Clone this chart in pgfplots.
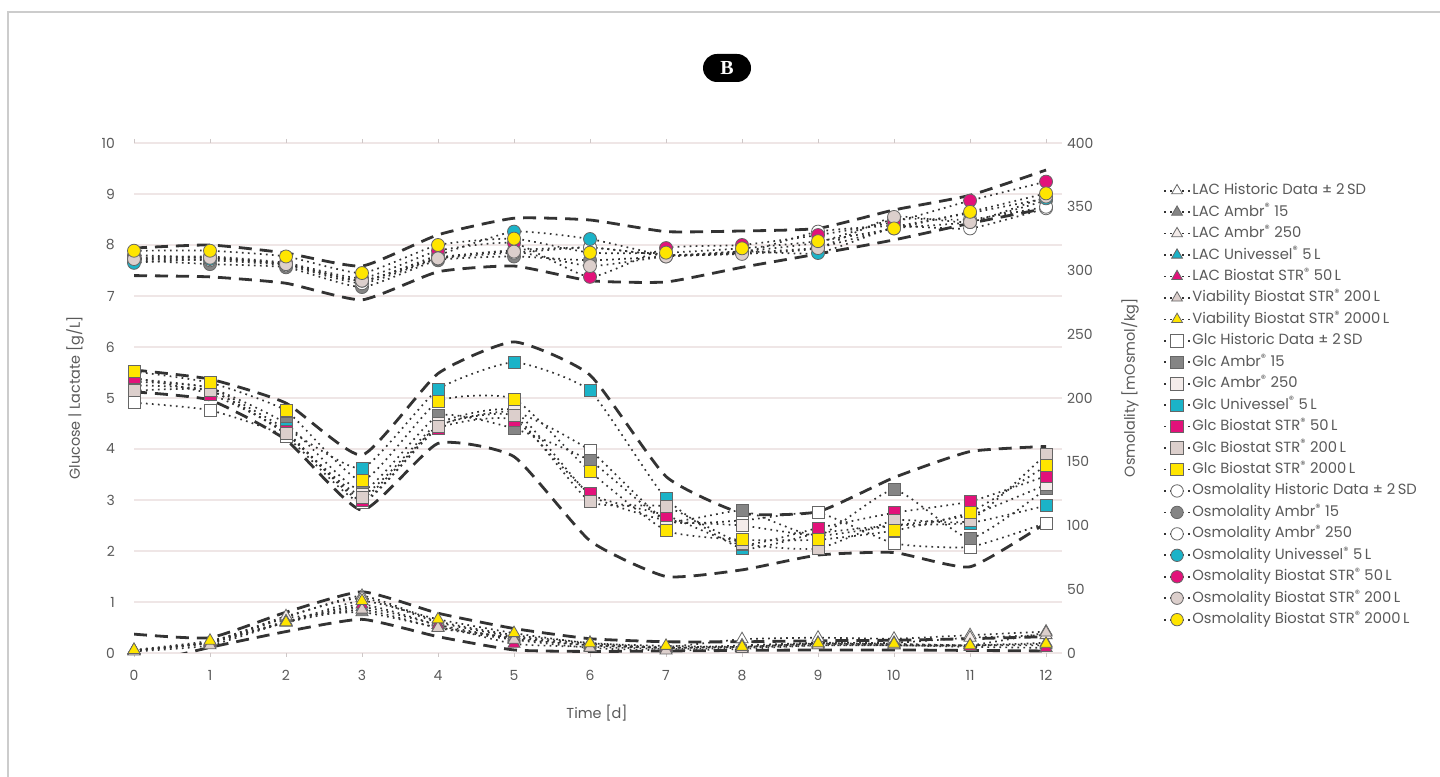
\documentclass[border=0pt]{standalone}
\usepackage{pgfplots}
\usepackage{pgfplotstable}
\pgfplotsset{compat=1.18}
\usepackage{fontspec}
\setmainfont{Poppins}
\newfontfamily\serifB{Liberation Serif}
\definecolor{textC}{HTML}{5A5A5A}
\definecolor{gridC}{HTML}{EFE6E6}
\definecolor{lineC}{HTML}{333333}
\definecolor{outC}{HTML}{666666}
\definecolor{cyanS}{HTML}{1BB3C8}
\definecolor{magS}{HTML}{E2127A}
\definecolor{yelS}{HTML}{FFE500}
\definecolor{grayS}{HTML}{858585}
\definecolor{pinkS}{HTML}{DCCFCC}
\definecolor{ambS}{HTML}{F4ECEA}
\definecolor{borderC}{HTML}{CCCCCC}
\newcommand\reg{\textsuperscript{®}}

\pgfplotstableread{
day H A15 A250 U5 B50 B200 B2000 up lo
0 0.05 0.05 0.05 0.05 0.05 0.03 0.06 0.37 -0.25
1 0.22 0.20 0.22 0.20 0.20 0.15 0.24 0.30 0.11
2 0.70 0.68 0.72 0.62 0.60 0.60 0.60 0.80 0.42
3 1.12 0.80 1.08 0.90 0.95 0.85 1.02 1.20 0.66
4 0.62 0.50 0.60 0.55 0.55 0.49 0.66 0.78 0.32
5 0.35 0.30 0.32 0.28 0.18 0.26 0.39 0.48 0.06
6 0.20 0.15 0.18 0.15 0.12 0.10 0.19 0.28 0.03
7 0.12 0.10 0.10 0.10 0.08 0.05 0.14 0.22 0.04
8 0.27 0.12 0.15 0.12 0.10 0.08 0.12 0.22 0.05
9 0.30 0.18 0.20 0.18 0.15 0.15 0.19 0.24 0.06
10 0.28 0.15 0.20 0.17 0.15 0.15 0.18 0.25 0.06
11 0.35 0.15 0.30 0.15 0.12 0.15 0.15 0.28 0.05
12 0.42 0.20 0.35 0.15 0.10 0.40 0.18 0.32 0.04
}\lac

\pgfplotstableread{
day H A15 A250 U5 B50 B200 B2000 up lo
0 4.91 5.37 5.25 5.32 5.40 5.14 5.52 5.55 5.12
1 4.76 5.20 5.15 5.20 5.08 5.15 5.30 5.37 4.96
2 4.24 4.50 4.30 4.40 4.34 4.30 4.75 4.90 4.18
3 2.95 3.18 3.10 3.62 2.99 3.05 3.38 3.88 2.80
4 4.45 4.65 4.50 5.17 4.40 4.45 4.93 5.48 4.11
5 4.73 4.40 4.75 5.70 4.57 4.65 4.98 6.10 3.85
6 3.97 3.77 3.10 5.14 3.12 2.97 3.56 5.45 2.20
7 2.60 2.60 2.60 3.03 2.70 2.87 2.40 3.46 1.50
8 2.60 2.79 2.50 2.05 2.12 2.15 2.22 2.74 1.63
9 2.75 2.30 2.30 2.35 2.45 2.05 2.22 2.77 1.92
10 2.15 3.20 2.50 2.50 2.75 2.60 2.40 3.44 1.97
11 2.08 2.25 2.70 2.55 2.97 2.60 2.76 3.95 1.69
12 2.55 3.22 3.30 2.89 3.47 3.90 3.67 4.05 2.55
}\glc

\pgfplotstableread{
day H A15 A250 U5 B50 B200 B2000 up lo
0 312 308 309 306 310 309 315.5 317.6 296
1 310 305 308 309 311 310 315.5 320 295
2 305 302.5 304 305 306 305 311 313.7 290
3 292 287 290 292 294 292 298 303.5 277
4 310 308 309 312 315.5 309.5 320 328 299
5 316 311 314 330.5 321.5 314.8 325 341 303.5
6 318 308 318 324.7 295 303.5 314 339.6 292
7 312 311 312 312 317.6 311 314 330.5 291
8 314 314 315 315 320 313 317.4 331 302.5
9 330.5 318 322 313.7 327.8 317.6 323 333 313
10 335 333 340 334 338 342 333 347.5 324
11 333 338 340 345 354.8 338 346 359 337
12 348.8 355 350 356.6 369.7 358 360.5 378.8 348.8
}\osm

\pgfplotsset{
  dotl/.style={color=lineC, line width=1.7bp, dash pattern=on 1.7bp off 4.3bp, smooth, tension=0.3},
  mk/.style={mark options={draw=outC, line width=0.8bp, solid, fill=#1}},
  circ/.style={dotl, mark=*, mark size=6.5bp, mk=#1},
  sq/.style={dotl, mark=square*, mark size=6bp, mk=#1},
  tri/.style={dotl, mark=triangle*, mark size=7bp, mk=#1},
  bound/.style={color=lineC, line width=2.8bp, dash pattern=on 13bp off 8bp, smooth, tension=0.3, no marks, forget plot},
  common/.style={
    at={(134bp,124bp)}, anchor=south west,
    scale only axis, width=928bp, height=510bp,
    xmin=0, xmax=12.21,
    axis line style={draw=none},
    tick label style={font=\fontsize{14}{16}\selectfont, text=textC},
    /pgf/number format/assume math mode=true,
  },
}

\begin{document}
\begin{tikzpicture}
\useasboundingbox (0,0) rectangle (1440bp,777bp);
\fill[white] (0,0) rectangle (1440bp,777bp);
\draw[color=borderC, line width=1.5bp] (8bp,-5bp) -- (8bp,765bp) -- (1445bp,765bp);
\node[fill=black, rounded corners=14bp, minimum width=48bp, minimum height=28bp, inner sep=0pt, text=white, font=\serifB\bfseries\fontsize{20}{20}\selectfont] at (727bp,709bp) {B};

\begin{axis}[common,
  ymin=0, ymax=10,
  xtick={0,...,12}, ytick={0,...,10},
  ymajorgrids, grid style={color=gridC, line width=1.3bp},
  xtick align=outside, major tick length=4bp,
  xtick style={color=gridC!70!gray, line width=1bp},
  ytick style={draw=none},
  xticklabel style={inner sep=0pt, yshift=-13bp},
  yticklabel style={anchor=east, inner sep=0pt, xshift=-19bp},
  xlabel={Time [d]}, ylabel={Glucose | Lactate [g/L]},
  every axis x label/.style={at={(axis description cs:0.4989,-0.1176)}, anchor=center, font=\fontsize{14.5}{17}\selectfont, text=textC},
  every axis y label/.style={at={(axis description cs:-0.0636,0.5)}, rotate=90, anchor=center, font=\fontsize{14.5}{17}\selectfont, text=textC},
]
\addplot[bound] table[x=day,y=up]{\lac};
\addplot[bound] table[x=day,y=lo]{\lac};
\addplot[bound] table[x=day,y=up]{\glc};
\addplot[bound] table[x=day,y=lo]{\glc};
\addplot[tri=white] table[x=day,y=H]{\lac};
\addplot[tri=grayS] table[x=day,y=A15]{\lac};
\addplot[tri=ambS] table[x=day,y=A250]{\lac};
\addplot[tri=cyanS] table[x=day,y=U5]{\lac};
\addplot[tri=magS] table[x=day,y=B50]{\lac};
\addplot[tri=pinkS] table[x=day,y=B200]{\lac};
\addplot[tri=yelS] table[x=day,y=B2000]{\lac};
\addplot[sq=white] table[x=day,y=H]{\glc};
\addplot[sq=grayS] table[x=day,y=A15]{\glc};
\addplot[sq=ambS] table[x=day,y=A250]{\glc};
\addplot[sq=cyanS] table[x=day,y=U5]{\glc};
\addplot[sq=magS] table[x=day,y=B50]{\glc};
\addplot[sq=pinkS] table[x=day,y=B200]{\glc};
\addplot[sq=yelS] table[x=day,y=B2000]{\glc};
\end{axis}

\begin{axis}[common,
  ymin=0, ymax=400,
  axis x line=none, axis y line*=right,
  ytick={0,50,...,400}, ytick style={draw=none},
  yticklabel style={anchor=west, inner sep=0pt, xshift=5bp},
  ylabel={Osmolality [mOsmol/kg]},
  every axis y label/.style={at={(axis description cs:1.0733,0.52)}, rotate=90, anchor=center, font=\fontsize{14.5}{17}\selectfont, text=textC},
  legend cell align=left,
  legend style={at={(axis description cs:1.1056,0.9275)}, anchor=north west, draw=none, fill=none,
    font=\fontsize{14.8}{16}\selectfont, text=textC, row sep=4.45bp,
    nodes={inner sep=1.5bp, text height=11bp, text depth=3bp}},
  legend image code/.code={\draw[mark repeat=2,mark phase=2, mark size=6.2bp] plot coordinates {(0bp,0bp)(13bp,0bp)(26bp,0bp)};},
]
\addlegendimage{tri=white}\addlegendentry{LAC Historic Data ± 2\,SD}
\addlegendimage{tri=grayS}\addlegendentry{LAC Ambr\reg{} 15}
\addlegendimage{tri=ambS}\addlegendentry{LAC Ambr\reg{} 250}
\addlegendimage{tri=cyanS}\addlegendentry{LAC Univessel\reg{} 5\,L}
\addlegendimage{tri=magS}\addlegendentry{LAC Biostat STR\reg{} 50\,L}
\addlegendimage{tri=pinkS}\addlegendentry{Viability Biostat STR\reg{} 200\,L}
\addlegendimage{tri=yelS}\addlegendentry{Viability Biostat STR\reg{} 2000\,L}
\addlegendimage{sq=white}\addlegendentry{Glc Historic Data ± 2\,SD}
\addlegendimage{sq=grayS}\addlegendentry{Glc Ambr\reg{} 15}
\addlegendimage{sq=ambS}\addlegendentry{Glc Ambr\reg{} 250}
\addlegendimage{sq=cyanS}\addlegendentry{Glc Univessel\reg{} 5\,L}
\addlegendimage{sq=magS}\addlegendentry{Glc Biostat STR\reg{} 50\,L}
\addlegendimage{sq=pinkS}\addlegendentry{Glc Biostat STR\reg{} 200\,L}
\addlegendimage{sq=yelS}\addlegendentry{Glc Biostat STR\reg{} 2000\,L}
\addplot[bound] table[x=day,y=up]{\osm};
\addplot[bound] table[x=day,y=lo]{\osm};
\addplot[circ=white] table[x=day,y=H]{\osm};\addlegendentry{Osmolality Historic Data ± 2\,SD}
\addplot[circ=grayS] table[x=day,y=A15]{\osm};\addlegendentry{Osmolality Ambr\reg{} 15}
\addplot[circ=white] table[x=day,y=A250]{\osm};\addlegendentry{Osmolality Ambr\reg{} 250}
\addplot[circ=cyanS] table[x=day,y=U5]{\osm};\addlegendentry{Osmolality Univessel\reg{} 5\,L}
\addplot[circ=magS] table[x=day,y=B50]{\osm};\addlegendentry{Osmolality Biostat STR\reg{} 50\,L}
\addplot[circ=pinkS] table[x=day,y=B200]{\osm};\addlegendentry{Osmolality Biostat STR\reg{} 200\,L}
\addplot[circ=yelS] table[x=day,y=B2000]{\osm};\addlegendentry{Osmolality Biostat STR\reg{} 2000\,L}
\end{axis}
\end{tikzpicture}
\end{document}
